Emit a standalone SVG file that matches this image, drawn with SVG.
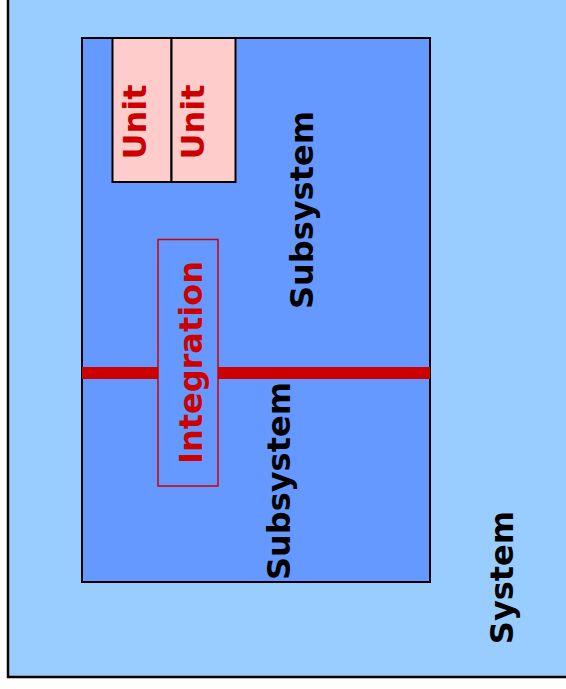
<svg xmlns="http://www.w3.org/2000/svg" width="566" height="689" viewBox="0 0 566 689">
  <style>
    .lbl { font-family: "DejaVu Sans", Verdana, sans-serif; font-weight: bold; font-size: 32px; text-anchor: middle; }
    .dark { fill: #000000; }
    .red { fill: #CC0000; }
  </style>
  <rect x="0" y="0" width="566" height="689" fill="#FFFFFF"/>
  <!-- System (extends past the top and right edges) -->
  <g id="system">
    <rect x="8" y="-10" width="570" height="687" fill="#99CCFF" stroke="#000000" stroke-width="2.5"/>
    <text class="lbl dark" transform="translate(513,577.5) rotate(-90)">System</text>
  </g>
  <!-- Subsystem area -->
  <g id="subsystems">
    <rect x="82" y="38" width="348" height="544" fill="#6699FF" stroke="#000000" stroke-width="2"/>
    <text class="lbl dark" transform="translate(313,210) rotate(-90)">Subsystem</text>
    <text class="lbl dark" transform="translate(290,481) rotate(-90)">Subsystem</text>
  </g>
  <!-- Interface between the two subsystems -->
  <g id="connectors">
    <line x1="82" y1="373" x2="430" y2="373" stroke="#CC0000" stroke-width="12"/>
  </g>
  <g id="unit1">
    <rect x="112.5" y="38" width="59" height="144" fill="#FFCCCC" stroke="#000000" stroke-width="2"/>
    <text class="lbl red" transform="translate(146,122) rotate(-90)">Unit</text>
  </g>
  <g id="unit2">
    <rect x="171.5" y="38" width="64" height="144" fill="#FFCCCC" stroke="#000000" stroke-width="2"/>
    <text class="lbl red" transform="translate(204,122) rotate(-90)">Unit</text>
  </g>
  <g id="integration">
    <rect x="158" y="239.5" width="60" height="246.5" fill="#6699FF" stroke="#CC0000" stroke-width="1.5"/>
    <text class="lbl red" transform="translate(201.5,362.5) rotate(-90)">Integration</text>
  </g>
</svg>
